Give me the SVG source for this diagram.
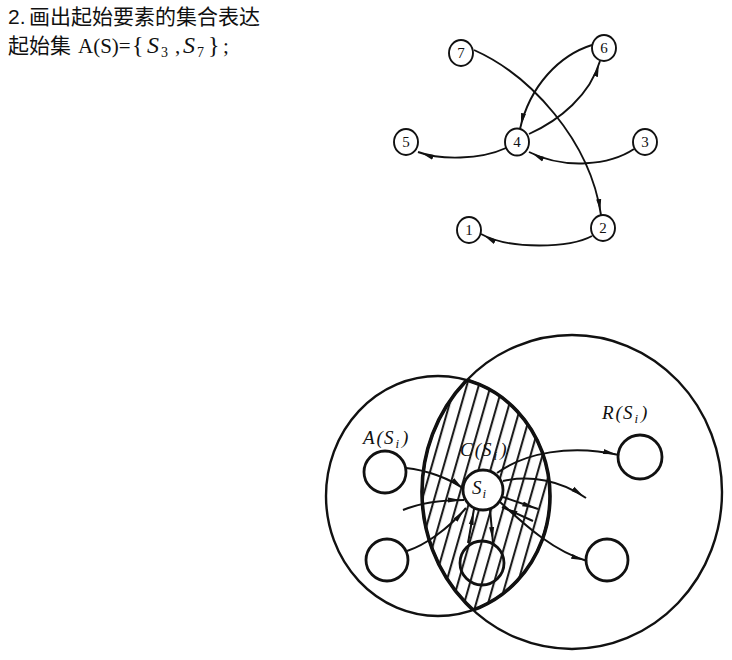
<svg xmlns="http://www.w3.org/2000/svg" width="732" height="660" viewBox="0 0 732 660">
<style>
.cjk{font-family:"Noto Sans CJK SC","Noto Sans CJK JP",sans-serif;font-size:21px;fill:#111}
.ser{font-family:"Liberation Serif","Times New Roman",serif;font-size:21px;fill:#111}
.it{font-style:italic;font-size:24px}
.br{font-size:24px}
.sub{font-size:14px}
.num{font-family:"Liberation Serif","Times New Roman",serif;font-size:15px;fill:#111;text-anchor:middle}
.node{fill:#fff;stroke:#111;stroke-width:1.9}
.edge{fill:none;stroke:#111;stroke-width:1.9;marker-end:url(#ah)}
.big{fill:none;stroke:#111;stroke-width:2.4}
.lens{fill:none;stroke:#111;stroke-width:3.6}
.sc{fill:none;stroke:#111;stroke-width:2.8}
.arr{fill:none;stroke:#111;stroke-width:2;marker-end:url(#ah2)}
.lab{font-family:"Liberation Serif","Times New Roman",serif;font-style:italic;font-size:19px;fill:#111}
</style>
<defs>
<marker id="ah" viewBox="0 0 16 7" refX="16" refY="3.5" markerWidth="16" markerHeight="7" markerUnits="userSpaceOnUse" orient="auto">
<path d="M0,1 L12,3.5 L0,6 Z" fill="#111"/>
</marker>
<marker id="ah2" viewBox="0 0 16 7" refX="16" refY="3.5" markerWidth="16" markerHeight="7" markerUnits="userSpaceOnUse" orient="auto">
<path d="M0,1 L13,3.5 L0,6 Z" fill="#111"/>
</marker>
<pattern id="hatch" patternUnits="userSpaceOnUse" width="11.5" height="20" patternTransform="rotate(16)">
<line x1="3" y1="-2" x2="3" y2="22" stroke="#111" stroke-width="2"/>
</pattern>
<clipPath id="clipA"><ellipse cx="438" cy="496" rx="112" ry="120"/></clipPath>
<clipPath id="clipR"><ellipse cx="572" cy="492" rx="150" ry="157"/></clipPath>
</defs>
<rect width="732" height="660" fill="#fff"/>

<g id="heading">
<text y="24"><tspan x="8" style="font-family:'Liberation Sans',Arial,sans-serif;font-size:21px;fill:#111">2.</tspan><tspan x="29" class="cjk">画出起始要素的集合表达</tspan></text>
<text y="53" class="ser"><tspan x="8" class="cjk">起始集</tspan><tspan x="78">A(S)=</tspan><tspan x="132" class="br">{</tspan><tspan x="147" class="it">S</tspan><tspan x="161" dy="4" class="sub">3</tspan><tspan x="175" dy="-4">,</tspan><tspan x="183" class="it">S</tspan><tspan x="197" dy="4" class="sub">7</tspan><tspan x="208" dy="-4" class="br">}</tspan><tspan x="223">;</tspan></text>
</g>

<g id="graph-connectors">
<path class="edge" d="M474,50 C530,75 590,140 601,215"/>
<path class="edge" d="M529,134 C560,120 590,95 600,61"/>
<path class="edge" d="M592,45 C560,55 530,85 520,129"/>
<path class="edge" d="M506,148 C480,160 440,160 418,152"/>
<path class="edge" d="M634,149 C610,165 565,170 529,152"/>
<path class="edge" d="M592,236 C570,248 510,250 481,234"/>
</g>
<g id="n7"><ellipse class="node" cx="461" cy="53" rx="12" ry="13"/><text class="num" x="461" y="58">7</text></g>
<g id="n6"><ellipse class="node" cx="604" cy="48" rx="12" ry="13"/><text class="num" x="604" y="53">6</text></g>
<g id="n5"><ellipse class="node" cx="406" cy="142" rx="12" ry="13"/><text class="num" x="406" y="147">5</text></g>
<g id="n4"><ellipse class="node" cx="517" cy="142" rx="12" ry="13.5"/><text class="num" x="517" y="147">4</text></g>
<g id="n3"><ellipse class="node" cx="645" cy="142" rx="12" ry="13"/><text class="num" x="645" y="147">3</text></g>
<g id="n1"><ellipse class="node" cx="469" cy="230" rx="12" ry="13"/><text class="num" x="469" y="235">1</text></g>
<g id="n2"><ellipse class="node" cx="603" cy="228" rx="12" ry="13"/><text class="num" x="603" y="233">2</text></g>

<g id="set-diagram">
<g clip-path="url(#clipA)"><rect x="400" y="360" width="170" height="270" fill="url(#hatch)" clip-path="url(#clipR)"/></g>
<ellipse class="big" cx="438" cy="496" rx="112" ry="120"/>
<ellipse class="big" cx="572" cy="492" rx="150" ry="157"/>
<g clip-path="url(#clipR)"><ellipse class="lens" cx="438" cy="496" rx="112" ry="120"/></g>
<g clip-path="url(#clipA)"><ellipse class="lens" cx="572" cy="492" rx="150" ry="157"/></g>
<text class="lab" x="363" y="444">A<tspan dx="2">(</tspan><tspan dx="1">S</tspan><tspan dy="4" dx="2" font-size="13">i</tspan><tspan dy="-4" dx="3">)</tspan></text>
<text class="lab" x="460" y="456">C<tspan dx="2">(</tspan><tspan dx="1">S</tspan><tspan dy="4" dx="2" font-size="13">i</tspan><tspan dy="-4" dx="3">)</tspan></text>
<text class="lab" x="602" y="419">R<tspan dx="2">(</tspan><tspan dx="1">S</tspan><tspan dy="4" dx="2" font-size="13">i</tspan><tspan dy="-4" dx="3">)</tspan></text>
</g>

<g id="set-connectors">
<path class="arr" d="M406,468 C425,470 450,478 465,490"/>
<path class="arr" d="M403,510 C420,503 440,500 464,500"/>
<path class="arr" d="M407,551 C425,545 447,530 466,508"/>
<path class="arr" d="M468,543 L474,509"/>
<path class="arr" d="M490,509 L493,543"/>
<path class="arr" d="M497,473 C525,453 570,444 619,455"/>
<path class="arr" d="M503,481 C530,475 560,480 586,498"/>
<path class="arr" d="M503,497 L538,509"/>
<path class="arr" d="M533,521 L502,507"/>
<path class="arr" d="M500,502 C520,520 550,550 587,561"/>
</g>

<g id="s-upper-left"><circle class="sc" cx="385" cy="472" r="21" fill="#fff"/></g>
<g id="s-lower-left"><circle class="sc" cx="387" cy="560" r="21" fill="#fff"/></g>
<g id="s-bottom"><circle class="sc" cx="482" cy="563" r="22"/></g>
<g id="s-upper-right"><circle class="sc" cx="640" cy="457" r="22" fill="#fff"/></g>
<g id="s-lower-right"><circle class="sc" cx="607" cy="560" r="21" fill="#fff"/></g>
<g id="s-i"><circle cx="483" cy="490" r="20" fill="#fff" stroke="#111" stroke-width="2.8"/><text class="lab" x="472" y="494">S<tspan dy="4" dx="1" font-size="13">i</tspan></text></g>
</svg>
